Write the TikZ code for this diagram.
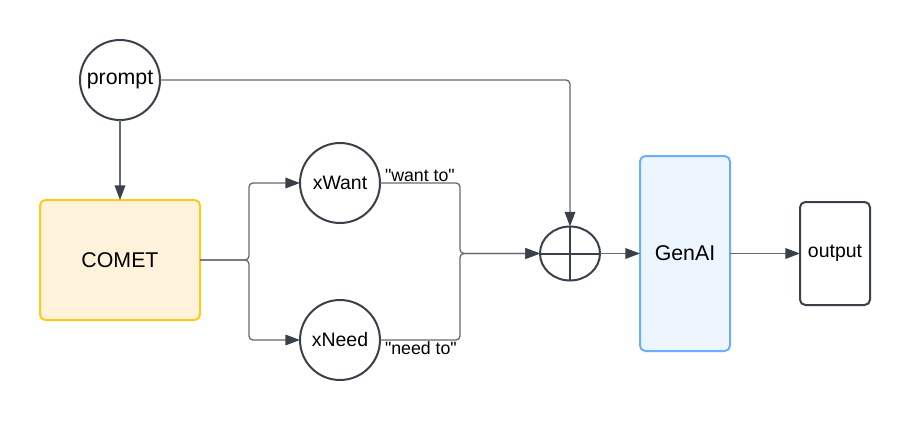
\documentclass[tikz,border=0pt]{standalone}
\usepackage{fontspec}
\setmainfont{Liberation Sans}[Ligatures=TeXOff]
\usetikzlibrary{shapes.geometric,arrows.meta}
\definecolor{ink}{HTML}{3A4049}
\definecolor{wirec}{HTML}{646A72}
\definecolor{cometfill}{HTML}{FFF2DA}
\definecolor{cometedge}{HTML}{FFC91A}
\definecolor{genfill}{HTML}{EDF5FF}
\definecolor{genedge}{HTML}{6AAEFF}

\begin{document}
\begin{tikzpicture}[x=0.75pt,y=-0.75pt,
  every node/.style={inner sep=0pt,outer sep=0pt},
  bubble/.style={circle,draw=ink,line width=1.5pt,fill=white,minimum size=60pt},
  big/.style={font=\fontsize{16}{19}\selectfont},
  mid/.style={font=\fontsize{14.6}{17}\selectfont},
  small/.style={font=\fontsize{13.3}{16}\selectfont},
  wire/.style={draw=wirec,line width=1pt,rounded corners=3pt},
  arr/.style={-{Triangle[length=11pt,width=8pt,color=ink,fill=ink]}}
]
\useasboundingbox (0,0) rectangle (911,421);

% nodes
\node[bubble,big] (prompt) at (120,80) {prompt};
\node[draw=cometedge,fill=cometfill,line width=1.5pt,rounded corners=4pt,
      minimum width=120pt,minimum height=90pt,big] (comet) at (120,260) {COMET};
\node[bubble,mid] (xw) at (340,183) {xWant};
\node[bubble,mid] (xn) at (340,340) {xNeed};
\node[ellipse,draw=ink,line width=1.5pt,fill=white,
      minimum width=45pt,minimum height=40.5pt] (op) at (570,253.5) {};
\draw[ink,line width=1.5pt] (op.north) -- (op.south) (op.west) -- (op.east);
\node[draw=genedge,fill=genfill,line width=1.5pt,rounded corners=4pt,
      minimum width=67.5pt,minimum height=146.25pt,big] (gen) at (685,253.5) {GenAI};
\node[draw=ink,fill=white,line width=1.5pt,rounded corners=4pt,
      minimum width=52.5pt,minimum height=77.25pt,mid] (out) at (835,253.5) {output};

% edge labels
\node[small,anchor=base west] (lw) at (385,181) {"want to"};
\node[small,anchor=base west] (ln) at (385,354) {"need to"};

% junction points
\coordinate (jl) at (249,260);
\coordinate (jr) at (460,253.5);

% connectors
\draw[wire,arr] (prompt.south) -- (comet.north);
\draw[wire,arr] (prompt.east) -| (op.north);
\draw[wire,arr] (comet.east) -- (jl) |- (xw.west);
\draw[wire,arr] (comet.east) -- (jl) |- (xn.west);
\draw[wire,arr] (xw.east) -| (jr) -- (op.west);
\draw[wire,arr] (xn.east) -| (jr) -- (op.west);
\draw[wire,arr] (op.east) -- (gen.west);
\draw[wire,arr] (gen.east) -- (out.west);
\end{tikzpicture}
\end{document}
